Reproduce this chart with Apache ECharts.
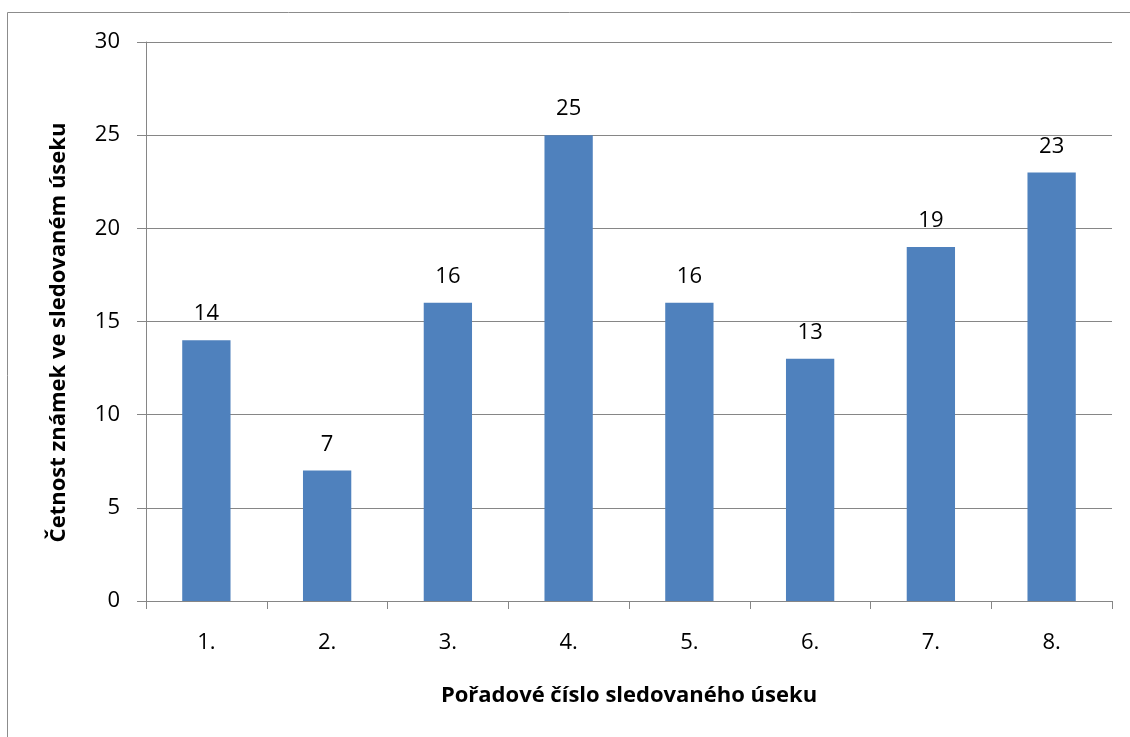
<!DOCTYPE html>
<html>
<head>
<meta charset="utf-8">
<script src="https://cdn.jsdelivr.net/npm/echarts@6/dist/echarts.min.js"></script>
<style>
  html, body { margin: 0; padding: 0; background: #ffffff; }
  #chart { width: 1130px; height: 737px; }
</style>
</head>
<body>
<div id="chart"></div>
<script>
// Section order numbers and counts of marks per section
const categories = ['1.', '2.', '3.', '4.', '5.', '6.', '7.', '8.'];
const counts = [14, 7, 16, 25, 16, 13, 19, 23];
const yTicks = { min: 0, max: 30, interval: 5 };

const FONT = '"Open Sans", "Liberation Sans", sans-serif';
const GRID_COLOR = '#868686';

const chart = echarts.init(document.getElementById('chart'), null, { renderer: 'canvas' });

chart.setOption({
  backgroundColor: '#ffffff',
  animation: false,
  graphic: [{
    type: 'rect',
    shape: { x: 7.5, y: 12.5, width: 1300, height: 900 },
    style: { fill: 'none', stroke: '#8c8c8c', lineWidth: 1 },
    silent: true,
    z: -10
  }],
  grid: { left: 146, right: 18, top: 42, bottom: 136 },
  xAxis: {
    type: 'category',
    data: categories,
    name: 'Pořadové číslo sledovaného úseku',
    nameLocation: 'middle',
    nameGap: 84,
    nameTextStyle: { fontFamily: FONT, fontSize: 22, fontWeight: 'bold', color: '#000000' },
    axisLine: { lineStyle: { color: GRID_COLOR, width: 1 } },
    axisTick: { show: true, length: 8, lineStyle: { color: GRID_COLOR } },
    axisLabel: { fontFamily: FONT, fontSize: 22, color: '#000000', margin: 31 }
  },
  yAxis: {
    type: 'value',
    min: yTicks.min,
    max: yTicks.max,
    interval: yTicks.interval,
    name: 'Četnost známek ve sledovaném úseku',
    nameLocation: 'middle',
    nameGap: 76,
    nameRotate: 90,
    nameTextStyle: { fontFamily: FONT, fontSize: 22, fontWeight: 'bold', color: '#000000', padding: [0, 22, 0, 0] },
    axisLine: { show: true, lineStyle: { color: GRID_COLOR, width: 1 } },
    axisTick: { show: true, length: 9, lineStyle: { color: GRID_COLOR } },
    axisLabel: { fontFamily: FONT, fontSize: 22, color: '#000000', margin: 26 },
    splitLine: { show: true, lineStyle: { color: GRID_COLOR, width: 1 } }
  },
  series: [{
    type: 'bar',
    data: counts,
    barWidth: '40%',
    itemStyle: { color: '#4f81bd' },
    label: {
      show: true,
      position: 'top',
      distance: 15,
      fontFamily: FONT,
      fontSize: 22,
      color: '#000000'
    }
  }]
});
</script>
</body>
</html>
